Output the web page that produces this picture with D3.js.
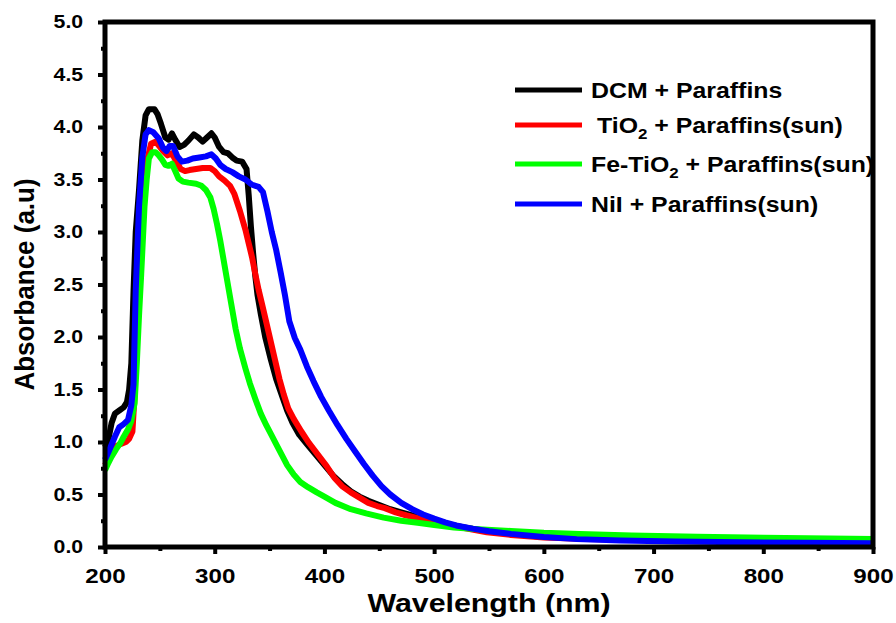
<!DOCTYPE html>
<html>
<head>
<meta charset="utf-8">
<script src="https://cdn.jsdelivr.net/npm/d3@7/dist/d3.min.js"></script>
<style>
  html, body { margin: 0; padding: 0; background: #fff; }
  svg { display: block; font-family: "Liberation Sans", Arial, sans-serif; font-weight: bold; }
</style>
</head>
<body>
<svg id="chart" width="896" height="623"></svg>
<script>
// UV-Vis absorbance spectra: [wavelength (nm), absorbance (a.u)]
const dcm = [
  [200,0.95],[203,1.02],[206,1.18],[209,1.27],[213,1.30],[217,1.33],[220,1.38],[222,1.50],
  [224,1.75],[226,2.44],[228,3.00],[231,3.40],[234,3.87],[237,4.11],[240,4.17],[245,4.17],
  [248,4.12],[251,4.03],[255,3.90],[258,3.88],[261,3.94],[264,3.88],[268,3.81],[272,3.83],
  [276,3.87],[281,3.93],[285,3.90],[289,3.86],[293,3.90],[297,3.94],[300,3.90],[304,3.81],
  [308,3.76],[312,3.75],[316,3.71],[320,3.68],[325,3.67],[329,3.60],[331,3.35],[333,3.05],
  [335,2.80],[337,2.58],[339,2.40],[342,2.22],[346,2.00],[351,1.79],[356,1.60],[361,1.45],
  [366,1.30],[371,1.18],[377,1.07],[384,0.98],[392,0.88],[400,0.78],[408,0.68],[416,0.60],
  [424,0.53],[432,0.48],[440,0.44],[450,0.40],[460,0.36],[470,0.33],[480,0.30],[490,0.28],
  [500,0.25],[512,0.22],[525,0.19],[540,0.165],[560,0.135],[590,0.105],[630,0.085],[680,0.07],
  [740,0.062],[800,0.055],[860,0.05],[900,0.048]
];
const tio2 = [
  [200,0.78],[205,0.88],[210,0.96],[214,0.98],[219,1.00],[222,1.03],[225,1.10],[227,1.45],
  [229,2.44],[231,2.90],[234,3.24],[237,3.55],[239,3.71],[242,3.84],[246,3.86],[250,3.81],
  [253,3.77],[257,3.73],[261,3.75],[265,3.67],[269,3.60],[273,3.58],[277,3.59],[283,3.60],
  [289,3.61],[296,3.61],[300,3.58],[304,3.53],[309,3.49],[314,3.44],[318,3.36],[323,3.20],
  [328,3.02],[331,2.89],[334,2.76],[337,2.60],[340,2.45],[343,2.32],[347,2.14],[351,1.96],
  [355,1.78],[359,1.60],[363,1.45],[367,1.32],[372,1.22],[379,1.10],[386,0.99],[394,0.88],
  [402,0.77],[409,0.66],[416,0.58],[424,0.52],[432,0.47],[440,0.42],[448,0.39],[455,0.37],
  [465,0.33],[475,0.30],[485,0.275],[495,0.25],[505,0.225],[518,0.20],[530,0.175],[548,0.14],
  [570,0.115],[600,0.09],[640,0.075],[700,0.065],[760,0.06],[830,0.055],[900,0.05]
];
const feTio2 = [
  [200,0.73],[203,0.80],[206,0.86],[210,0.93],[214,0.99],[217,1.05],[221,1.12],[224,1.20],
  [227,1.37],[229,1.75],[231,2.20],[233,2.60],[236,3.24],[238,3.50],[240,3.70],[243,3.76],
  [246,3.76],[249,3.73],[252,3.69],[255,3.64],[258,3.63],[261,3.65],[264,3.58],[267,3.51],
  [271,3.48],[276,3.47],[283,3.46],[288,3.44],[292,3.40],[296,3.33],[299,3.22],[302,3.08],
  [305,2.92],[308,2.74],[311,2.56],[315,2.32],[319,2.08],[323,1.89],[328,1.70],[332,1.56],
  [337,1.41],[342,1.27],[347,1.16],[352,1.06],[356,0.98],[361,0.88],[366,0.78],[372,0.69],
  [378,0.62],[385,0.57],[393,0.52],[400,0.48],[410,0.42],[424,0.36],[438,0.32],[454,0.28],
  [470,0.25],[485,0.23],[500,0.21],[518,0.185],[540,0.17],[570,0.153],[600,0.135],[633,0.124],
  [680,0.11],[740,0.098],[800,0.088],[860,0.08],[900,0.076]
];
const nil = [
  [200,0.83],[203,0.90],[209,1.05],[213,1.14],[217,1.17],[221,1.21],[224,1.35],[226,1.55],
  [228,2.44],[231,3.24],[234,3.71],[237,3.93],[240,3.97],[244,3.95],[249,3.89],[253,3.80],
  [256,3.77],[259,3.82],[262,3.82],[266,3.72],[270,3.67],[275,3.68],[280,3.70],[286,3.71],
  [292,3.72],[297,3.74],[301,3.70],[305,3.64],[310,3.60],[316,3.57],[322,3.53],[328,3.50],
  [334,3.45],[340,3.43],[344,3.38],[348,3.20],[352,3.00],[356,2.83],[360,2.62],[364,2.40],
  [368,2.15],[373,1.99],[378,1.88],[384,1.72],[390,1.58],[397,1.43],[404,1.30],[412,1.16],
  [420,1.03],[428,0.91],[436,0.79],[444,0.68],[452,0.58],[460,0.50],[470,0.42],[480,0.36],
  [490,0.31],[500,0.27],[510,0.235],[520,0.205],[535,0.175],[550,0.15],[570,0.125],[600,0.095],
  [630,0.075],[670,0.062],[720,0.052],[780,0.045],[840,0.040],[900,0.036]
];

const seriesNames = ["DCM + Paraffins", "TiO2 + Paraffins(sun)", "Fe-TiO2 + Paraffins(sun)", "NiI + Paraffins(sun)"];
const seriesColors = ["#000000", "#ff0000", "#00ff00", "#0000ff"];
const seriesData = [dcm, tio2, feTio2, nil];

const xMajorTicks = [200, 300, 400, 500, 600, 700, 800, 900];
const xMinorTicks = [250, 350, 450, 550, 650, 750, 850];
const yMajorTicks = [0, 0.5, 1.0, 1.5, 2.0, 2.5, 3.0, 3.5, 4.0, 4.5, 5.0];
const yMinorTicks = [0.25, 0.75, 1.25, 1.75, 2.25, 2.75, 3.25, 3.75, 4.25, 4.75];

const svg = d3.select("#chart");
const plotLeft = 105, plotRight = 873, plotTop = 22, plotBottom = 547;
const TEXT_SX = 1.15;

const x = d3.scaleLinear().domain([200, 900]).range([plotLeft, plotRight]);
const y = d3.scaleLinear().domain([0, 5]).range([plotBottom, plotTop]);

svg.append("rect").attr("width", 896).attr("height", 623).attr("fill", "#fff");

// spectra (drawn first so the frame sits on top of the line ends)
const line = d3.line().x(d => x(d[0])).y(d => y(d[1]));
const plot = svg.append("g");
seriesData.forEach((data, i) => {
  plot.append("path")
    .datum(data)
    .attr("d", line)
    .attr("fill", "none")
    .attr("stroke", seriesColors[i])
    .attr("stroke-width", 6)
    .attr("stroke-linejoin", "round")
    .attr("stroke-linecap", "butt");
});

// legend
const legend = svg.append("g");
const legendY = [90, 125, 164, 204];
seriesNames.forEach((name, i) => {
  const ly = legendY[i];
  legend.append("line")
    .attr("x1", 515).attr("x2", 582).attr("y1", ly).attr("y2", ly)
    .attr("stroke", seriesColors[i]).attr("stroke-width", 5);
  const t = legend.append("text")
    .attr("transform", `translate(${i === 1 ? 597 : 591},${ly + 8}) scale(1.13,1)`)
    .attr("font-size", 22)
    .attr("fill", "#000");
  const m = name.match(/^(.*?TiO)2(.*)$/);
  if (m) {
    t.append("tspan").text(m[1]);
    t.append("tspan").text("2").attr("font-size", 15).attr("dy", 6);
    t.append("tspan").text(m[2]).attr("dy", -6);
  } else {
    t.text(name);
  }
});

// axes: major and minor ticks
function styleAxis(g) {
  g.select(".domain").remove();
  g.selectAll(".tick line").attr("stroke", "#000").attr("stroke-width", 4);
}
const xAxis = svg.append("g").attr("transform", `translate(0,${plotBottom})`)
  .call(d3.axisBottom(x).tickValues(xMajorTicks).tickSize(7).tickPadding(14).tickFormat(d3.format("d")));
styleAxis(xAxis);
xAxis.selectAll(".tick text")
  .attr("font-size", 21).attr("font-family", "Liberation Sans, Arial, sans-serif")
  .attr("font-weight", "bold").attr("fill", "#000")
  .attr("transform", `scale(${TEXT_SX},1)`);
const xMinor = svg.append("g").attr("transform", `translate(0,${plotBottom})`)
  .call(d3.axisBottom(x).tickValues(xMinorTicks).tickSize(4).tickFormat(""));
styleAxis(xMinor);

const yAxis = svg.append("g").attr("transform", `translate(${plotLeft},0)`)
  .call(d3.axisLeft(y).tickValues(yMajorTicks).tickSize(7).tickPadding(12).tickFormat(d3.format(".1f")));
styleAxis(yAxis);
yAxis.selectAll(".tick text")
  .attr("font-size", 18.5).attr("font-family", "Liberation Sans, Arial, sans-serif")
  .attr("font-weight", "bold").attr("fill", "#000")
  .attr("transform", `scale(${TEXT_SX},1)`);
const yMinor = svg.append("g").attr("transform", `translate(${plotLeft},0)`)
  .call(d3.axisLeft(y).tickValues(yMinorTicks).tickSize(4).tickFormat(""));
styleAxis(yMinor);

// frame
svg.append("rect")
  .attr("x", plotLeft).attr("y", plotTop)
  .attr("width", plotRight - plotLeft).attr("height", plotBottom - plotTop)
  .attr("fill", "none").attr("stroke", "#000").attr("stroke-width", 5);

// axis titles
svg.append("text")
  .attr("transform", `translate(${(plotLeft + plotRight) / 2},612) scale(1.19,1)`)
  .attr("text-anchor", "middle").attr("font-size", 25.5).attr("fill", "#000")
  .text("Wavelength (nm)");
svg.append("text")
  .attr("transform", `translate(34,${(plotTop + plotBottom) / 2}) scale(1.05,1) rotate(-90)`)
  .attr("text-anchor", "middle").attr("font-size", 26).attr("fill", "#000")
  .text("Absorbance (a.u)");
</script>
</body>
</html>
